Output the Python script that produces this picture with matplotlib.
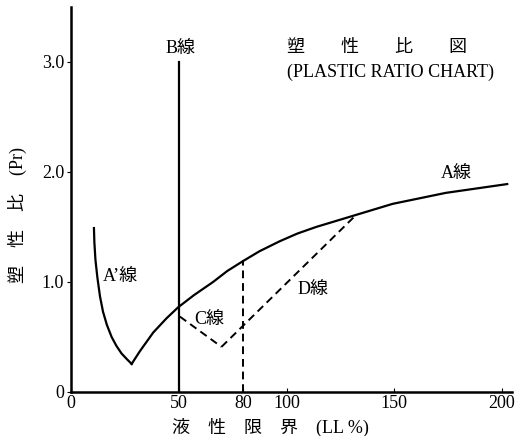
import matplotlib
matplotlib.use('Agg')
import matplotlib.pyplot as plt

plt.rcParams['font.family'] = ['Liberation Serif', 'Noto Sans CJK JP', 'DejaVu Sans']

# A' line (left branch, falling)
a2_x = [10.6, 10.8, 11.3, 12.2, 13.4, 14.8, 16.6, 18.8, 21.0, 23.4, 25.8, 28.1]
a2_y = [1.49, 1.36, 1.20, 1.04, 0.87, 0.73, 0.61, 0.50, 0.42, 0.35, 0.30, 0.255]

# A line (rising branch)
a_x = [28.1, 31.9, 38.1, 44.3, 49.7, 57.0, 65.9, 72.5, 79.8, 87.5, 96.8, 105.0, 113.7, 123.0, 132.3, 149.2, 173.9, 202.4]
a_y = [0.255, 0.37, 0.54, 0.67, 0.77, 0.88, 1.0, 1.10, 1.19, 1.28, 1.37, 1.44, 1.50, 1.555, 1.61, 1.71, 1.81, 1.89]

# B line (vertical at LL=50)
b_x = [50, 50]
b_y = [0, 3.0]

# C line + D line (dashed)
c_x = [50.5, 69.8]
c_y = [0.685, 0.41]
d_x = [69.8, 132.3]
d_y = [0.41, 1.61]

# vertical dashed at LL=80
v80_x = [80, 80]
v80_y = [0, 1.2]

xticks = [0, 50, 80, 100, 150, 200]
yticks = [0, 1.0, 2.0, 3.0]
yticklabels = ['0', '1.0', '2.0', '3.0']

fig = plt.figure(figsize=(5.19, 4.36), dpi=100)
ax = fig.add_axes([0.137, 0.101, 0.849, 0.883])

ax.plot(a2_x, a2_y, color='black', lw=1.6)
ax.plot(a_x, a_y, color='black', lw=1.6)
ax.plot(b_x, b_y, color='black', lw=1.6)
ax.plot(c_x, c_y, color='black', lw=1.4, ls=(0, (4, 2.5)))
ax.plot(d_x, d_y, color='black', lw=1.4, ls=(0, (4, 2.5)))
ax.plot(v80_x, v80_y, color='black', lw=1.4, ls=(0, (4, 2.5)))

ax.set_xlim(0, 204.5)
ax.set_ylim(0, 3.5)
ax.spines['top'].set_visible(False)
ax.spines['right'].set_visible(False)
ax.spines['left'].set_linewidth(1.8)
ax.spines['bottom'].set_linewidth(1.8)

ax.set_xticks(xticks)
ax.set_yticks(yticks)
ax.set_yticklabels(yticklabels)
ax.tick_params(axis='x', direction='in', length=3, labelsize=13, pad=2)
ax.tick_params(axis='y', direction='out', length=3, labelsize=13, pad=2)

ax.text(51, 3.11, 'B線', ha='center', va='center', fontsize=13)
ax.text(100, 3.13, '塑　　性　　比　　図', ha='left', va='center', fontsize=13)
ax.text(100, 2.91, '(PLASTIC RATIO CHART)', ha='left', va='center', fontsize=13)
ax.text(178.7, 1.98, 'A線', ha='center', va='center', fontsize=13)
ax.text(22.7, 1.04, 'A’線', ha='center', va='center', fontsize=13)
ax.text(63.9, 0.65, 'C線', ha='center', va='center', fontsize=13)
ax.text(112.3, 0.92, 'D線', ha='center', va='center', fontsize=13)

fig.text(17 / 519, 1 - 215 / 436, '塑　性　比　(Pr)', rotation=90,
         ha='center', va='center', fontsize=13)
fig.text(270 / 519, 1 - 427 / 436, '液　性　限　界　(LL %)',
         ha='center', va='center', fontsize=13)

fig.savefig('out.png', dpi=100)
